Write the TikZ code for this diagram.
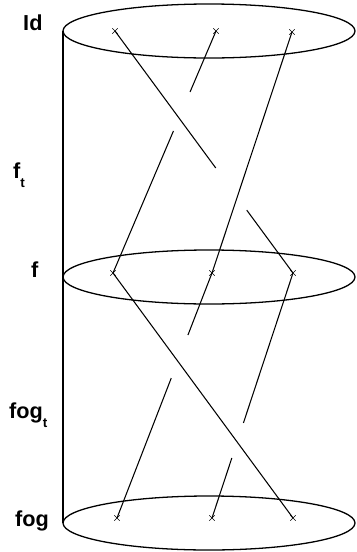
\documentclass[tikz,border=0pt]{standalone}
\usepackage{fontspec}
\setmainfont{Liberation Sans}
\usetikzlibrary{calc,shapes.misc}
\newcommand{\subt}{\raisebox{-8pt}{\fontsize{11.5}{12}\selectfont t}}

\begin{document}
\begin{tikzpicture}[x=0.03cm, y=-0.03cm,
    lbl/.style={anchor=base west, inner sep=0pt,
      font=\fontsize{18.5}{22}\selectfont\bfseries},
    pt/.style={cross out, draw, minimum size=4pt, inner sep=0pt, line width=0.5pt},
    strand/.style={line width=0.9pt},
    rim/.style={line width=1.1pt}]
        \useasboundingbox (0,0) rectangle (356,552);
        % the three slices of the cylinder
        \draw[rim] (209,31) ellipse [x radius=146, y radius=27];
        \draw[rim] (209,277) ellipse [x radius=146, y radius=27];
        \draw[rim] (209,523) ellipse [x radius=146, y radius=27];
        \coordinate (edgetop) at (63,31);
        \coordinate (edgebot) at (63,523);
        \draw[rim] (edgetop) -- (edgebot);
        % labels
        \node[lbl] (lid) at (23,30) {Id};
        \node[lbl] (lft) at (13,178) {f\subt};
        \node[lbl] (lf) at (31,277) {f};
        \node[lbl] (lfogt) at (9,418) {fog\subt};
        \node[lbl] (lfog) at (15,526) {fog};
        % points
        \node[pt] (t1) at (115,31) {};
        \node[pt] (t2) at (216,31) {};
        \node[pt] (t3) at (292,32) {};
        \node[pt] (m1) at (113,273) {};
        \node[pt] (m2) at (212,273) {};
        \node[pt] (m3) at (293,273) {};
        \node[pt] (b1) at (117,518) {};
        \node[pt] (b2) at (212,518) {};
        \node[pt] (b3) at (293,518) {};
        % upper braid
        \draw[strand] (t1.center) -- ($(t1)!0.566!(m3)$);
        \draw[strand] ($(t1)!0.74!(m3)$) -- (m3.center);
        \draw[strand] (t2.center) -- ($(t2)!0.252!(m1)$);
        \draw[strand] ($(t2)!0.413!(m1)$) -- (m1.center);
        \draw[strand] (t3.center) -- (m2.center);
        % lower braid
        \draw[strand] (m1.center) -- (b3.center);
        \draw[strand] (m2.center) -- ($(m2)!0.253!(b1)$);
        \draw[strand] ($(m2)!0.429!(b1)$) -- (b1.center);
        \draw[strand] (m3.center) -- ($(m3)!0.612!(b2)$);
        \draw[strand] ($(m3)!0.755!(b2)$) -- (b2.center);
\end{tikzpicture}
\end{document}
